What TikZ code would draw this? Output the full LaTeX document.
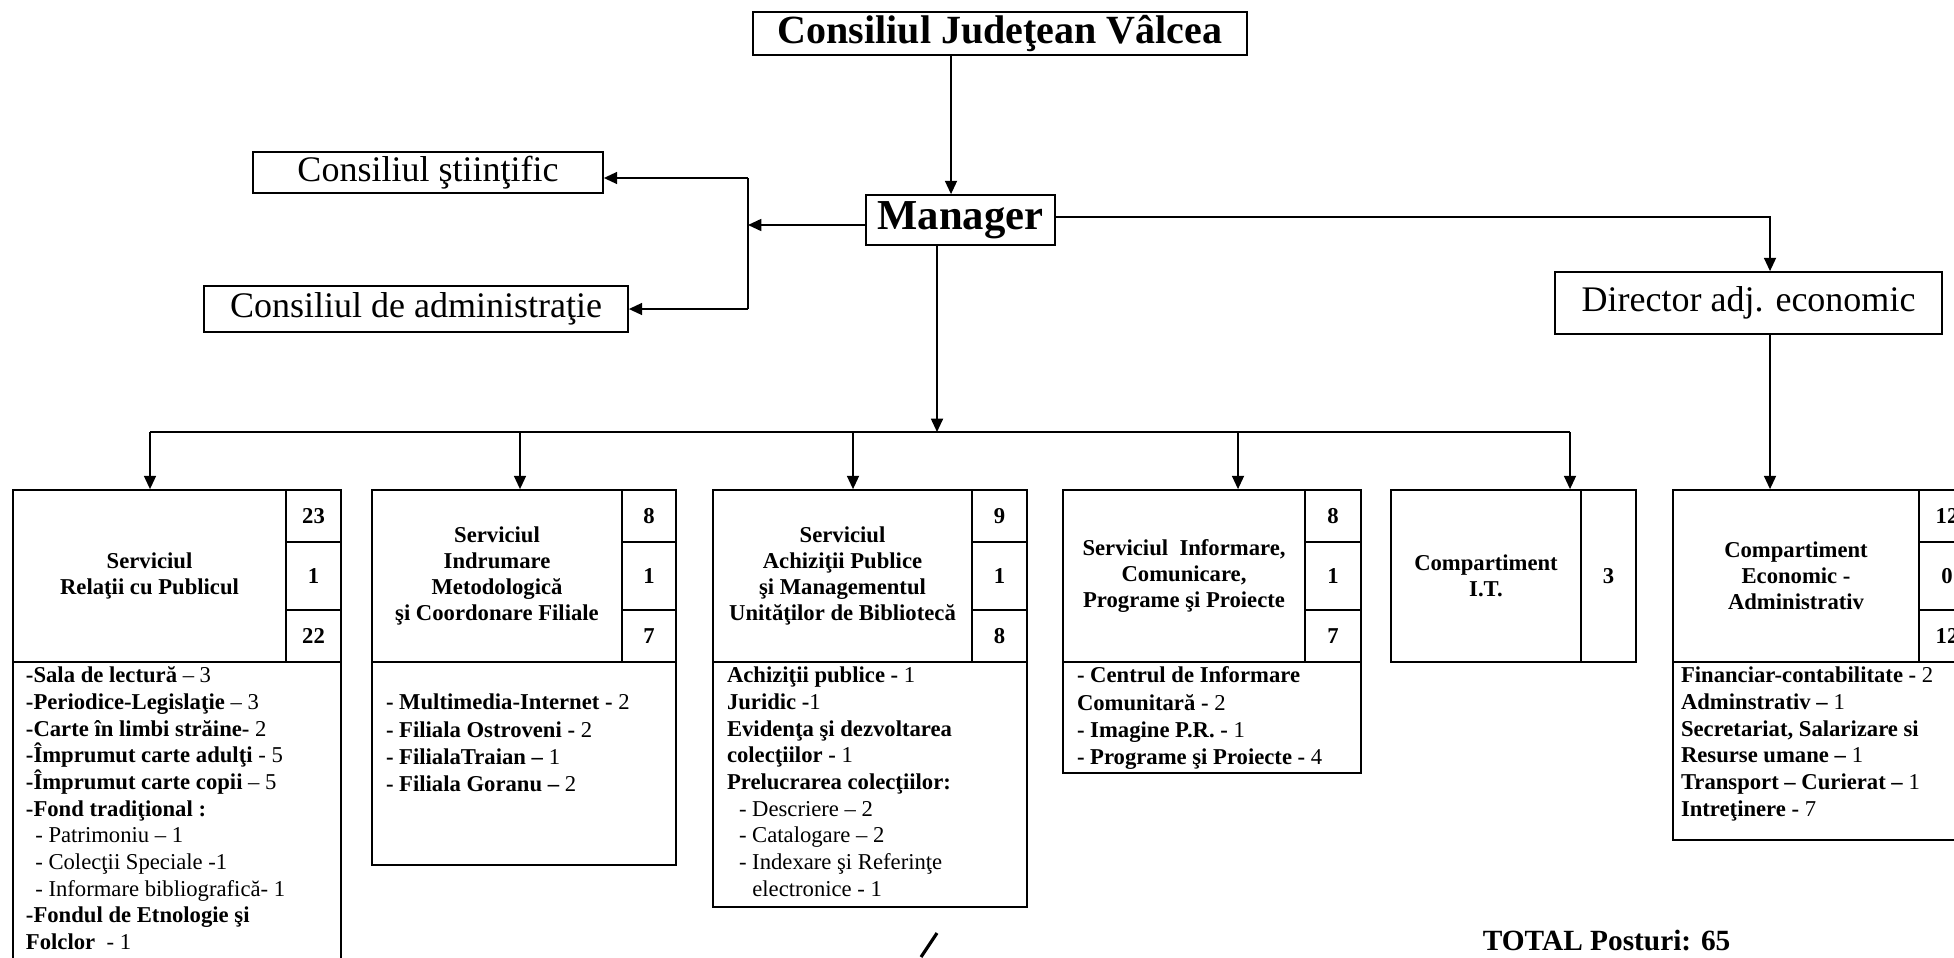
\documentclass[tikz,border=0pt]{standalone}
\usepackage{fontspec}
\setmainfont{Liberation Serif}
\usetikzlibrary{arrows.meta}

\tikzset{
  span/.style args={#1/#2/#3/#4}{at={({(#1+#3)/2},{(#2+#4)/2})},
    minimum width={(#3-#1)*0.75pt}, minimum height={(#4-#2)*0.75pt}},
  linebox/.style={draw, inner sep=0pt},
  topbox/.style={linebox, font=\fontsize{27}{32}\selectfont},
  titlebox/.style={linebox, align=center, font=\bfseries\fontsize{17}{19.5}\selectfont},
  nrbox/.style={linebox, font=\bfseries\fontsize{17}{20}\selectfont},
  listtext/.style={inner sep=0pt, anchor=north west, align=left, font=\fontsize{17}{20}\selectfont},
  arr/.style={-{Triangle[length=10pt,width=9pt]}}
}

\begin{document}
\begin{tikzpicture}[x=0.75pt, y=-0.75pt, line width=1.3pt]
  \useasboundingbox (0,0) rectangle (1954,957);
  \clip (0,0) rectangle (1954,957);

  % conducere
  \node[topbox, span=753/12/1247/55, font=\bfseries\fontsize{30}{36}\selectfont] (cjv) {Consiliul Judeţean Vâlcea};
  \node[topbox, span=866/195/1055/245, font=\bfseries\fontsize{32}{36}\selectfont] (mgr) {Manager};
  \node[topbox, span=253/152/603/193] (stiin) {Consiliul ştiinţific};
  \node[topbox, span=204/286/628/332] (cadm) {Consiliul de administraţie};
  \node[topbox, span=1555/272/1942/334] (dir) {Director adj. economic};

  % servicii si compartimente
  \node[titlebox, span=13/490/286/662] (t1) {Serviciul\\Relaţii cu Publicul};
  \node[nrbox, span=286/490/341/542] (n1a) {23};
  \node[nrbox, span=286/542/341/610] (n1b) {1};
  \node[nrbox, span=286/610/341/662] (n1c) {22};
  \node[linebox, span=13/662/341/1000] (l1) {};
  \node[listtext] (x1) at ([shift={(13,5)}]l1.north west) {%
    \textbf{-Sala de lectură} – 3\\
    \textbf{-Periodice-Legislaţie} – 3\\
    \textbf{-Carte în limbi străine-} 2\\
    \textbf{-Împrumut carte adulţi} - 5\\
    \textbf{-Împrumut carte copii} – 5\\
    \textbf{-Fond tradiţional :}\\
    \hspace*{7pt}- Patrimoniu – 1\\
    \hspace*{7pt}- Colecţii Speciale -1\\
    \hspace*{7pt}- Informare bibliografică- 1\\
    \textbf{-Fondul de Etnologie şi}\\
    \textbf{Folclor}~ - 1};

  \node[titlebox, span=372/490/622/662] (t2) {Serviciul\\Indrumare\\Metodologică\\şi Coordonare Filiale};
  \node[nrbox, span=622/490/676/542] (n2a) {8};
  \node[nrbox, span=622/542/676/610] (n2b) {1};
  \node[nrbox, span=622/610/676/662] (n2c) {7};
  \node[linebox, span=372/662/676/865] (l2) {};
  \node[listtext, font=\fontsize{17}{20.5}\selectfont] (x2) at ([shift={(14,32)}]l2.north west) {%
    \textbf{- Multimedia-Internet -} 2\\
    \textbf{- Filiala Ostroveni -} 2\\
    \textbf{- FilialaTraian –} 1\\
    \textbf{- Filiala Goranu –} 2};

  \node[titlebox, span=713/490/972/662] (t3) {Serviciul\\Achiziţii Publice\\şi Managementul\\Unităţilor de Bibliotecă};
  \node[nrbox, span=972/490/1027/542] (n3a) {9};
  \node[nrbox, span=972/542/1027/610] (n3b) {1};
  \node[nrbox, span=972/610/1027/662] (n3c) {8};
  \node[linebox, span=713/662/1027/907] (l3) {};
  \node[listtext] (x3) at ([shift={(14,5)}]l3.north west) {%
    \textbf{Achiziţii publice -} 1\\
    \textbf{Juridic -}1\\
    \textbf{Evidenţa şi dezvoltarea}\\
    \textbf{colecţiilor -} 1\\
    \textbf{Prelucrarea colecţiilor:}\\
    \hspace*{9pt}- Descriere – 2\\
    \hspace*{9pt}- Catalogare – 2\\
    \hspace*{9pt}- Indexare şi Referinţe\\
    \hspace*{19pt}electronice - 1};

  \node[titlebox, span=1063/490/1305/662] (t4) {Serviciul\ \ Informare,\\Comunicare,\\Programe şi Proiecte};
  \node[nrbox, span=1305/490/1361/542] (n4a) {8};
  \node[nrbox, span=1305/542/1361/610] (n4b) {1};
  \node[nrbox, span=1305/610/1361/662] (n4c) {7};
  \node[linebox, span=1063/662/1361/773] (l4) {};
  \node[listtext, font=\fontsize{17}{20.5}\selectfont] (x4) at ([shift={(14,5)}]l4.north west) {%
    \textbf{- Centrul de Informare}\\
    \textbf{Comunitară -} 2\\
    \textbf{- Imagine P.R. -} 1\\
    \textbf{- Programe şi Proiecte -} 4};

  \node[titlebox, span=1391/490/1581/662] (t5) {Compartiment\\I.T.};
  \node[nrbox, span=1581/490/1636/662] (n5) {3};

  \node[titlebox, span=1673/490/1919/662] (t6) {Compartiment\\Economic -\\Administrativ};
  \node[nrbox, span=1919/490/1975/542] (n6a) {12};
  \node[nrbox, span=1919/542/1975/610] (n6b) {0};
  \node[nrbox, span=1919/610/1975/662] (n6c) {12};
  \node[linebox, span=1673/662/1975/840] (l6) {};
  \node[listtext] (x6) at ([shift={(8,5)}]l6.north west) {%
    \textbf{Financiar-contabilitate -} 2\\
    \textbf{Adminstrativ –} 1\\
    \textbf{Secretariat, Salarizare si}\\
    \textbf{Resurse umane –} 1\\
    \textbf{Transport – Curierat –} 1\\
    \textbf{Intreţinere -} 7};

  \node[inner sep=0pt, anchor=base west, font=\bfseries\fontsize{22}{26}\selectfont] (tot) at (1482,950) {TOTAL Posturi: 65};

  % legaturi
  \coordinate (ct) at (951,100);
  \coordinate (lv) at (748,225);
  \coordinate (ls) at (748,178);
  \coordinate (la) at (748,309);
  \coordinate (rc) at (1770,217);
  \coordinate (bm) at (937,432);
  \coordinate (b1) at (150,432);
  \coordinate (b2) at (520,432);
  \coordinate (b3) at (853,432);
  \coordinate (b4) at (1238,432);
  \coordinate (b5) at (1570,432);

  \draw[arr] (cjv.south -| ct) -- (ct |- mgr.north);
  \draw[arr] (mgr.west |- lv) -- (lv);
  \draw (ls) -- (la);
  \draw[arr] (ls) -- (ls -| stiin.east);
  \draw[arr] (la) -- (la -| cadm.east);
  \draw[arr] (mgr.east |- rc) -- (rc) -- (rc |- dir.north);
  \draw[arr] (rc |- dir.south) -- (rc |- t6.north);
  \draw[arr] (bm |- mgr.south) -- (bm);
  \draw (b1) -- (b5);
  \foreach \k in {1,...,5}
    \draw[arr] (b\k) -- (b\k |- t\k.north);

  \draw[line width=2.4pt] (921,957) -- (937,933);
\end{tikzpicture}
\end{document}
